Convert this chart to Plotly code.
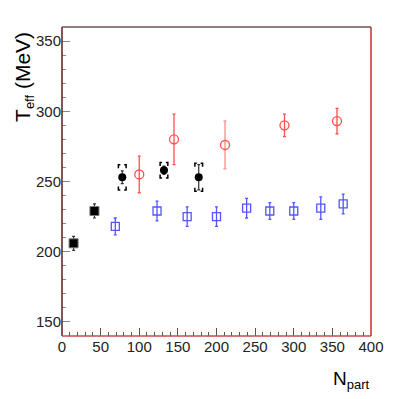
import plotly.graph_objects as go

# -----------------------
# Data
# -----------------------
# black filled squares (low Npart)
sq_x = [15, 42]
sq_y = [206, 229]
sq_err = [5, 5]

# black filled circles with systematic brackets
bc_x = [78, 132, 177]
bc_y = [253, 258, 253]
bc_err = [4.5, 3, 9]
bc_sys = [9, 5.5, 10]

# red open circles
rc_x = [100, 145, 288, 356]
rc_y = [255, 280, 290, 293]
rc_err = [13, 18, 8, 9]
rc2_x = [211]
rc2_y = [276]
rc2_err = [17]

# blue open squares
bs_x = [69, 123, 162, 200, 239, 269, 300, 335, 364]
bs_y = [218, 229, 225, 225, 231, 229, 229, 231, 234]
bs_err = [6, 7, 7, 7, 7, 6, 6, 8, 7]

fig = go.Figure()

# systematic brackets built from the black circle data
bx, by = [], []
d, c, h = 5, 2.5, 2.5
for x, y, s in zip(bc_x, bc_y, bc_sys):
    for sign in (1, -1):
        yy = y + sign * s
        bx += [x - d, x - d, x - d + c, None, x + d - c, x + d, x + d, None]
        by += [yy - sign * h, yy, yy, None, yy, yy, yy - sign * h, None]
fig.add_trace(go.Scatter(x=bx, y=by, mode="lines", line=dict(color="black", width=1.5),
                         hoverinfo="skip"))

fig.add_trace(go.Scatter(x=bs_x, y=bs_y, mode="markers",
                         error_y=dict(array=bs_err, color="#5555ff", thickness=1.3, width=1.5),
                         marker=dict(symbol="square-open", size=8, color="#5555ff",
                                     line=dict(width=1.3))))
fig.add_trace(go.Scatter(x=rc_x, y=rc_y, mode="markers",
                         error_y=dict(array=rc_err, color="#ff5050", thickness=1.3, width=1.5),
                         marker=dict(symbol="circle-open", size=9, color="#ff5050",
                                     line=dict(width=1.3))))
fig.add_trace(go.Scatter(x=rc2_x, y=rc2_y, mode="markers",
                         error_y=dict(array=rc2_err, color="#ff9a9a", thickness=1.5, width=1.5),
                         marker=dict(symbol="circle-open", size=9, color="#ff5050",
                                     line=dict(width=1.3))))
fig.add_trace(go.Scatter(x=bc_x, y=bc_y, mode="markers",
                         error_y=dict(array=bc_err, color="#333333", thickness=1.2, width=1.5),
                         marker=dict(symbol="circle", size=8, color="black")))
fig.add_trace(go.Scatter(x=sq_x, y=sq_y, mode="markers",
                         error_y=dict(array=sq_err, color="#333333", thickness=1.2, width=1.5),
                         marker=dict(symbol="square", size=9, color="black",
                                     line=dict(color="#777777", width=1))))

font = "Liberation Sans, Arial, sans-serif"
fig.update_layout(
    width=391, height=391,
    margin=dict(l=54, r=28, t=19, b=63),
    plot_bgcolor="white", paper_bgcolor="white",
    showlegend=False,
    font=dict(family=font, size=15, color="#222222"),
    xaxis=dict(range=[0, 400], tickvals=[0, 50, 100, 150, 200, 250, 300, 350, 400],
               ticks="inside", ticklen=8, tickcolor="#555555", showgrid=False, zeroline=False,
               minor=dict(dtick=10, ticks="inside", ticklen=4, tickcolor="#555555"),
               showline=False, tickfont=dict(size=15)),
    yaxis=dict(range=[140, 360], tickvals=[150, 200, 250, 300, 350],
               ticks="inside", ticklen=8, tickcolor="#888888", showgrid=False, zeroline=False,
               minor=dict(dtick=10, ticks="inside", ticklen=4, tickcolor="#888888"),
               showline=False, tickfont=dict(size=15)),
)

# frame
fig.add_shape(type="line", xref="paper", yref="paper", x0=0, x1=0, y0=0, y1=1,
              line=dict(color="#5a1e1e", width=1.5))
fig.add_shape(type="line", xref="paper", yref="paper", x0=0, x1=1, y0=0, y1=0,
              line=dict(color="#c84848", width=1.5))
fig.add_shape(type="line", xref="paper", yref="paper", x0=1, x1=1, y0=0, y1=1,
              line=dict(color="#c03030", width=1.5))
fig.add_shape(type="line", xref="paper", yref="paper", x0=0, x1=1, y0=1, y1=1,
              line=dict(color="#7a5050", width=1.5))

# axis titles
fig.add_annotation(text="T<sub><span style='font-size:13px'>eff</span></sub> (MeV)",
                   xref="paper", yref="paper",
                   x=-0.172, y=0.99, xanchor="left", yanchor="top", textangle=-90,
                   showarrow=False, font=dict(size=21, color="black"))
fig.add_annotation(text="N<sub><span style='font-size:13px'>part</span></sub>",
                   xref="paper", yref="paper",
                   x=1.003, y=-0.098, xanchor="right", yanchor="top",
                   showarrow=False, font=dict(size=19, color="black"))

fig.write_html("out.html")
